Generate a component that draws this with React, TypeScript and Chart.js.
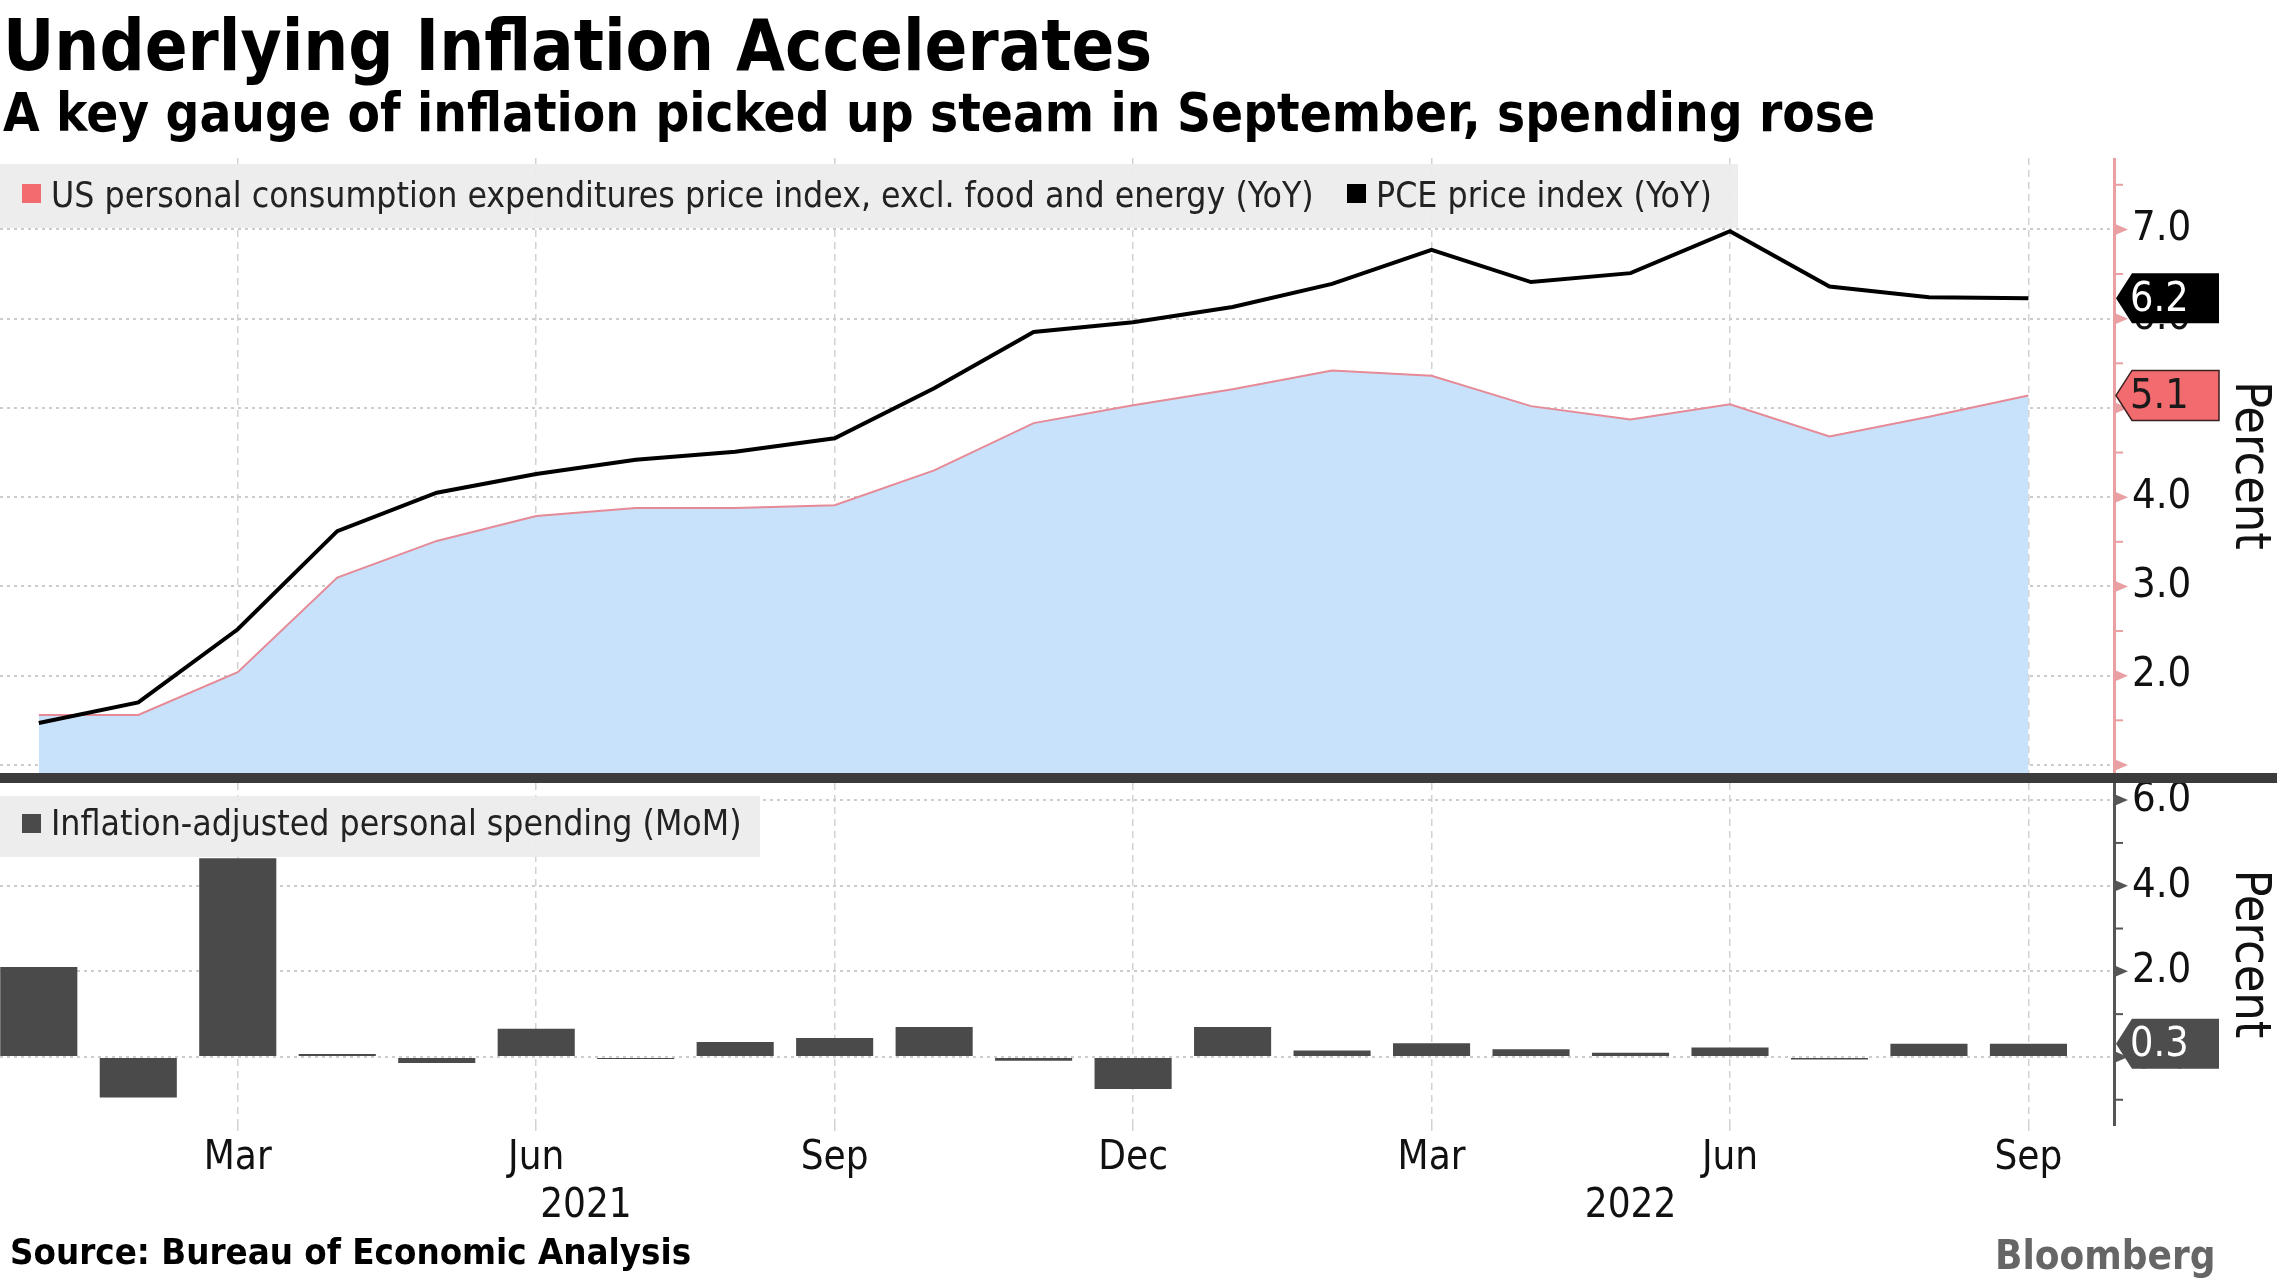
import React, { useEffect, useRef } from 'react';
import { Chart, registerables } from 'chart.js';

Chart.register(...registerables);

// ---------------- data ----------------
const months = ['Jan', 'Feb', 'Mar', 'Apr', 'May', 'Jun', 'Jul', 'Aug', 'Sep', 'Oct', 'Nov', 'Dec',
  'Jan', 'Feb', 'Mar', 'Apr', 'May', 'Jun', 'Jul', 'Aug', 'Sep'];
const coreYoY = [1.56, 1.56, 2.04, 3.10, 3.51, 3.79, 3.88, 3.88, 3.91, 4.30, 4.83, 5.03, 5.21, 5.42, 5.36, 5.02, 4.87, 5.04, 4.68, 4.90, 5.14];
const pceYoY = [1.47, 1.70, 2.52, 3.62, 4.05, 4.26, 4.42, 4.51, 4.66, 5.22, 5.85, 5.96, 6.13, 6.39, 6.77, 6.41, 6.51, 6.98, 6.36, 6.24, 6.23];
const spendingMoM = [2.10, -0.95, 4.64, 0.07, -0.14, 0.66, -0.05, 0.35, 0.44, 0.70, -0.09, -0.75, 0.70, 0.15, 0.32, 0.18, 0.10, 0.22, -0.06, 0.31, 0.31];
const monthTickIdx = [2, 5, 8, 11, 14, 17, 20];
const yearLabels = ['2021', '2022'];
const yearTickPos = [5.5, 16];
const topTicks = [1, 2, 3, 4, 5, 6, 7];
const bottomTicks = [0, 2, 4, 6];

const coreLabel = 'US personal consumption expenditures price index, excl. food and energy (YoY)';
const pceLabel = 'PCE price index (YoY)';
const spendLabel = 'Inflation-adjusted personal spending (MoM)';

// ---------------- styling ----------------
const FONT = "'DejaVu Sans Condensed', 'DejaVu Sans', sans-serif";
const W = 2277;
const AXIS_W = 163;
const X_MIN = -0.39;
const X_MAX = 20.86;
const TOP_TOP = 158;
const TOP_H = 615;
const BOT_TOP = 783;
const BOT_H = 452;
const HGRID = '#cccccc';
const VGRID = '#d2d2d2';
const RED = '#f26b6e';
const BAR = '#4a4a4a';

const fitRight = (s: any) => {
  s.width = AXIS_W;
  s.paddingTop = 0;
  s.paddingBottom = 0;
};
const fitX = (s: any) => {
  s.paddingLeft = 0;
  s.paddingRight = 0;
};

const axisDecor = {
  id: 'axisDecor',
  afterDraw(chart: any, _args: any, opts: any) {
    const s = chart.scales.y;
    const ctx = chart.ctx;
    const x0 = s.left;
    ctx.save();
    ctx.fillStyle = opts.color;
    ctx.strokeStyle = opts.color;
    ctx.lineWidth = 2;
    const ms = opts.minorStep;
    const start = Math.ceil(s.min / ms) * ms;
    for (let v = start; v <= s.max + 1e-9; v += ms) {
      const y = s.getPixelForValue(v);
      const r = v / opts.majorStep;
      const major = Math.abs(r - Math.round(r)) < 1e-6;
      if (major) {
        ctx.beginPath();
        ctx.moveTo(x0, y - 6);
        ctx.lineTo(x0 + 14, y);
        ctx.lineTo(x0, y + 6);
        ctx.closePath();
        ctx.fill();
      } else {
        ctx.beginPath();
        ctx.moveTo(x0, y);
        ctx.lineTo(x0 + 9, y);
        ctx.stroke();
      }
    }
    // year labels under the month labels
    if (opts.years) {
      const xs = chart.scales.x;
      ctx.fillStyle = '#111111';
      ctx.font = `40px ${FONT}`;
      ctx.textAlign = 'center';
      ctx.textBaseline = 'middle';
      opts.years.labels.forEach((lab: string, i: number) => {
        ctx.fillText(lab, xs.getPixelForValue(opts.years.pos[i]), chart.chartArea.bottom + 82);
      });
    }
    // value tags
    (opts.tags || []).forEach((t: any) => {
      const data = chart.data.datasets[t.datasetIndex].data;
      const last = data[data.length - 1];
      const val = typeof last === 'object' ? last.y : last;
      const y = s.getPixelForValue(val);
      const hh = 25;
      ctx.beginPath();
      ctx.moveTo(x0 + 2, y);
      ctx.lineTo(x0 + 18, y - hh);
      ctx.lineTo(x0 + 105, y - hh);
      ctx.lineTo(x0 + 105, y + hh);
      ctx.lineTo(x0 + 18, y + hh);
      ctx.closePath();
      ctx.fillStyle = t.fill;
      ctx.fill();
      if (t.stroke) {
        ctx.lineWidth = 1.5;
        ctx.strokeStyle = t.stroke;
        ctx.stroke();
      }
      ctx.fillStyle = t.text;
      ctx.font = `41px ${FONT}`;
      ctx.textAlign = 'left';
      ctx.textBaseline = 'middle';
      ctx.fillText(val.toFixed(1), x0 + 16, y + 2);
    });
    ctx.restore();
  },
};

const yTickFont = { family: FONT, size: 41.5, lineHeight: 1.2 };
const xTickFont = { family: FONT, size: 40, lineHeight: 1.2 };

export default function App() {
  const topRef = useRef<HTMLCanvasElement>(null);
  const botRef = useRef<HTMLCanvasElement>(null);

  useEffect(() => {
    const topChart = new Chart(topRef.current as HTMLCanvasElement, {
      type: 'line',
      data: {
        datasets: [
          {
            label: pceLabel,
            data: pceYoY.map((v, i) => ({ x: i, y: v })),
            borderColor: '#000000',
            borderWidth: 4,
            pointRadius: 0,
            fill: false,
            tension: 0,
          },
          {
            label: coreLabel,
            data: coreYoY.map((v, i) => ({ x: i, y: v })),
            borderColor: '#e58a96',
            borderWidth: 2,
            pointRadius: 0,
            fill: 'start',
            backgroundColor: '#c9e2fb',
            tension: 0,
          },
        ],
      },
      options: {
        responsive: false,
        animation: false,
        layout: { padding: 0 },
        plugins: {
          legend: { display: false },
          tooltip: { enabled: false },
          axisDecor: {
            color: '#e9a0a3',
            minorStep: 0.5,
            majorStep: 1,
            tags: [
              { datasetIndex: 0, fill: '#000000', text: '#ffffff' },
              { datasetIndex: 1, fill: RED, stroke: '#3a2020', text: '#1a1a1a' },
            ],
          },
        } as any,
        scales: {
          x: {
            type: 'linear',
            min: X_MIN,
            max: X_MAX,
            offset: false,
            afterBuildTicks: (s: any) => { s.ticks = monthTickIdx.map((v) => ({ value: v })); },
            ticks: { display: false },
            grid: { color: VGRID, lineWidth: 1.5, drawTicks: false, offset: false },
            border: { display: false, dash: [7, 5] },
            afterFit: fitX,
          },
          y: {
            type: 'linear',
            position: 'right',
            min: 0.91,
            max: 7.8,
            afterBuildTicks: (s: any) => { s.ticks = topTicks.map((v) => ({ value: v })); },
            ticks: {
              callback: (v: any) => (Number(v) === 1 ? '' : Number(v).toFixed(1)),
              font: yTickFont,
              color: '#111111',
              padding: 6,
            },
            grid: { color: HGRID, lineWidth: 2, drawTicks: true, tickLength: 12, tickColor: 'rgba(0,0,0,0)' },
            border: { display: true, color: '#e9a0a3', width: 3, dash: [3, 4] },
            title: {
              display: true,
              text: 'Percent',
              font: { family: FONT, size: 50, lineHeight: 1 },
              color: '#111111',
              padding: { top: 3, bottom: 0 },
            },
            afterFit: fitRight,
          },
        },
      } as any,
      plugins: [axisDecor],
    });

    const botChart = new Chart(botRef.current as HTMLCanvasElement, {
      type: 'bar',
      data: {
        datasets: [
          {
            label: spendLabel,
            data: spendingMoM.map((v, i) => ({ x: i, y: v })),
            backgroundColor: BAR,
            borderWidth: 0,
            barPercentage: 0.775,
            categoryPercentage: 1,
          },
        ],
      },
      options: {
        responsive: false,
        animation: false,
        layout: { padding: { top: 0, left: 0, right: 0, bottom: 48 } },
        plugins: {
          legend: { display: false },
          tooltip: { enabled: false },
          axisDecor: {
            color: '#555555',
            minorStep: 1,
            majorStep: 2,
            years: { labels: yearLabels, pos: yearTickPos },
            tags: [{ datasetIndex: 0, fill: '#4d4d4d', text: '#ffffff' }],
          },
        } as any,
        scales: {
          x: {
            type: 'linear',
            position: 'bottom',
            min: X_MIN,
            max: X_MAX,
            offset: false,
            afterBuildTicks: (s: any) => { s.ticks = monthTickIdx.map((v) => ({ value: v })); },
            ticks: {
              callback: (v: any) => months[Math.round(Number(v))],
              font: xTickFont,
              color: '#111111',
              padding: 4,
              maxRotation: 0,
              autoSkip: false,
            },
            grid: { color: VGRID, lineWidth: 1.5, drawTicks: true, tickLength: 6, tickColor: VGRID, offset: false },
            border: { display: false, dash: [7, 5] },
            afterFit: fitX,
          },
          y: {
            type: 'linear',
            position: 'right',
            min: -1.59,
            max: 6.4,
            afterBuildTicks: (s: any) => { s.ticks = bottomTicks.map((v) => ({ value: v })); },
            ticks: {
              callback: (v: any) => Number(v).toFixed(1),
              font: yTickFont,
              color: '#111111',
              padding: 6,
            },
            grid: { color: HGRID, lineWidth: 2, drawTicks: true, tickLength: 12, tickColor: 'rgba(0,0,0,0)' },
            border: { display: true, color: '#555555', width: 3, dash: [3, 4] },
            title: {
              display: true,
              text: 'Percent',
              font: { family: FONT, size: 50, lineHeight: 1 },
              color: '#111111',
              padding: { top: 3, bottom: 0 },
            },
            afterFit: fitRight,
          },
        },
      } as any,
      plugins: [axisDecor],
    });

    return () => {
      topChart.destroy();
      botChart.destroy();
    };
  }, []);

  const abs = (o: any) => ({ position: 'absolute' as const, whiteSpace: 'nowrap' as const, lineHeight: 1, ...o });

  return (
    <div style={{ position: 'absolute', left: 0, top: 0, width: W, height: 1280, background: '#ffffff', overflow: 'hidden', fontFamily: FONT, color: '#000' }}>
      <div style={abs({ left: 3, top: 11, fontSize: 70.3, fontWeight: 'bold' })}>Underlying Inflation Accelerates</div>
      <div style={abs({ left: 3, top: 86.5, fontSize: 52.6, fontWeight: 'bold' })}>A key gauge of inflation picked up steam in September, spending rose</div>

      <div style={abs({ left: 0, top: TOP_TOP, width: W, height: TOP_H })}>
        <canvas ref={topRef} width={W} height={TOP_H} style={{ width: W, height: TOP_H, display: 'block' }} />
      </div>
      <div style={abs({ left: 0, top: 773, width: W, height: 10, background: '#3b3b3b' })} />
      <div style={abs({ left: 0, top: BOT_TOP, width: W, height: BOT_H })}>
        <canvas ref={botRef} width={W} height={BOT_H} style={{ width: W, height: BOT_H, display: 'block' }} />
      </div>

      {/* top legend */}
      <div style={abs({ left: 0, top: 164, width: 1738, height: 64, background: 'rgba(236,236,236,0.92)' })} />
      <div style={abs({ left: 22, top: 184, width: 19, height: 19, background: RED })} />
      <div style={abs({ left: 51, top: 177.4, fontSize: 35.3, color: '#222' })}>{coreLabel}</div>
      <div style={abs({ left: 1347, top: 184, width: 19, height: 19, background: '#000' })} />
      <div style={abs({ left: 1376, top: 177.4, fontSize: 35.3, color: '#222' })}>{pceLabel}</div>

      {/* bottom legend */}
      <div style={abs({ left: 0, top: 796, width: 760, height: 61, background: 'rgba(236,236,236,0.92)' })} />
      <div style={abs({ left: 22, top: 814, width: 19, height: 19, background: BAR })} />
      <div style={abs({ left: 51, top: 805, fontSize: 35.3, color: '#222' })}>{spendLabel}</div>

      <div style={abs({ left: 10, top: 1234, fontSize: 36.3, fontWeight: 'bold' })}>Source: Bureau of Economic Analysis</div>
      <div style={abs({ left: 1995, top: 1235, fontSize: 40, fontWeight: 'bold', color: '#333', opacity: 0.75 })}>Bloomberg</div>
    </div>
  );
}
